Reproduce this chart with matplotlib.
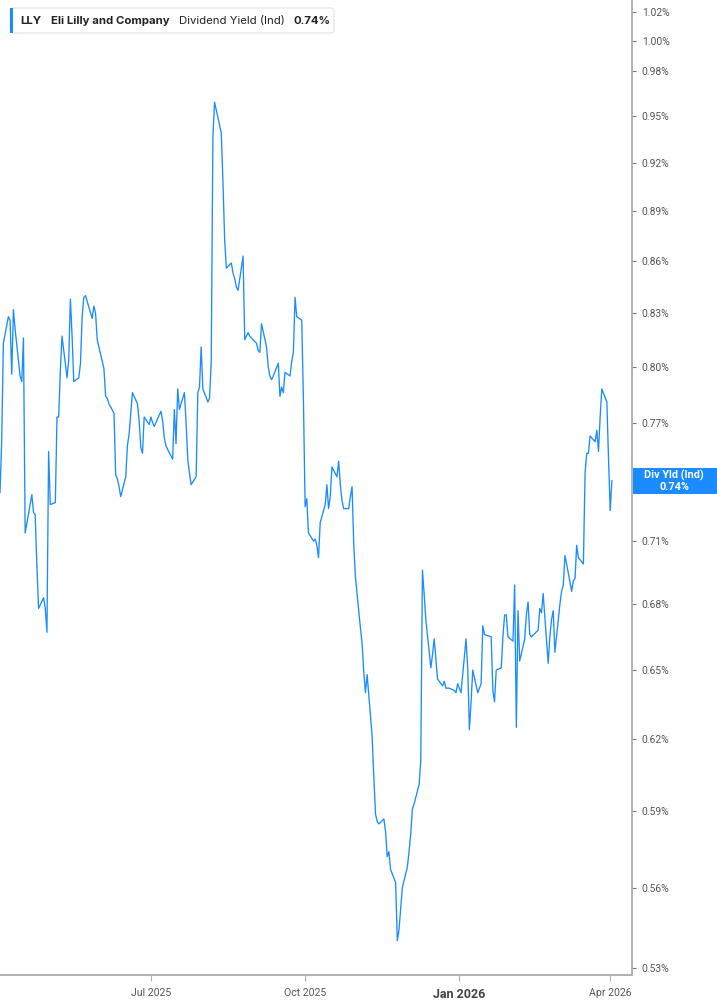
import matplotlib
matplotlib.use("Agg")
import matplotlib.pyplot as plt
import matplotlib.dates as mdates
import matplotlib.ticker as mticker
from matplotlib.patches import Rectangle, FancyBboxPatch
from matplotlib.text import Annotation
import pandas as pd

BLUE = "#1a8cff"
GREY_TXT = "#555555"
SPINE = "#b0b0b0"

# NYSE holidays in the window (no trading -> no point)
HOLIDAYS = ["2025-04-18", "2025-05-26", "2025-06-19", "2025-07-04", "2025-09-01",
            "2025-11-27", "2025-12-25", "2026-01-01", "2026-01-19", "2026-02-16"]
START, END = "2025-04-02", "2026-04-02"

# dividend yield (%), one value per trading day
yield_pct = [
    0.734, 0.760, 0.813, 0.828, 0.826, 0.796, 0.832, 0.821, 0.795, 0.792,
    0.816, 0.714, 0.733, 0.724, 0.723, 0.698, 0.678, 0.683, 0.678, 0.667,
    0.755, 0.728, 0.729, 0.773, 0.773, 0.798, 0.817, 0.794, 0.804, 0.838,
    0.817, 0.792, 0.794, 0.802, 0.828, 0.839, 0.840, 0.827, 0.834, 0.830,
    0.815, 0.803, 0.799, 0.784, 0.783, 0.780, 0.775, 0.743, 0.741, 0.737,
    0.732, 0.742, 0.758, 0.764, 0.786, 0.780, 0.771, 0.757, 0.754, 0.773,
    0.769, 0.773, 0.770, 0.768, 0.776, 0.771, 0.762, 0.758, 0.756, 0.751,
    0.777, 0.759, 0.788, 0.777, 0.786, 0.770, 0.751, 0.744, 0.738, 0.742,
    0.786, 0.789, 0.811, 0.788, 0.781, 0.783, 0.803, 0.937, 0.959, 0.944,
    0.939, 0.908, 0.873, 0.856, 0.859, 0.853, 0.850, 0.845, 0.843, 0.863,
    0.815, 0.817, 0.819, 0.817, 0.813, 0.809, 0.808, 0.824, 0.811, 0.800,
    0.795, 0.793, 0.795, 0.802, 0.784, 0.789, 0.786, 0.797, 0.795, 0.803,
    0.808, 0.839, 0.828, 0.826, 0.782, 0.727, 0.731, 0.714, 0.710, 0.711,
    0.708, 0.702, 0.719, 0.728, 0.738, 0.726, 0.732, 0.747, 0.742, 0.750,
    0.738, 0.730, 0.726, 0.726, 0.732, 0.737, 0.709, 0.693, 0.669, 0.662,
    0.649, 0.640, 0.648, 0.621, 0.604, 0.589, 0.586, 0.585, 0.587, 0.582,
    0.572, 0.574, 0.567, 0.562, 0.540, 0.544, 0.560, 0.568, 0.574, 0.581,
    0.591, 0.593, 0.601, 0.611, 0.696, 0.685, 0.673, 0.651, 0.657, 0.664,
    0.655, 0.646, 0.643, 0.645, 0.642, 0.642, 0.641, 0.640, 0.644, 0.640,
    0.664, 0.651, 0.624, 0.636, 0.650, 0.640, 0.642, 0.644, 0.670, 0.666,
    0.665, 0.641, 0.636, 0.650, 0.651, 0.665, 0.675, 0.675, 0.665, 0.663,
    0.689, 0.625, 0.677, 0.654, 0.664, 0.675, 0.681, 0.666, 0.665, 0.668,
    0.678, 0.676, 0.685, 0.653, 0.665, 0.673, 0.677, 0.658, 0.680, 0.686,
    0.689, 0.703, 0.699, 0.686, 0.691, 0.692, 0.708, 0.702, 0.699, 0.744,
    0.754, 0.754, 0.763, 0.760, 0.766, 0.755, 0.773, 0.788, 0.781, 0.751,
    0.725, 0.740,
]
ytick_vals = [0.53, 0.56, 0.59, 0.62, 0.65, 0.68, 0.71, 0.77, 0.80, 0.83,
              0.86, 0.89, 0.92, 0.95, 0.98, 1.00, 1.02]
xtick_dates = ["2025-07-01", "2025-10-01", "2026-01-01", "2026-04-01"]
xtick_labels = ["Jul 2025", "Oct 2025", "Jan 2026", "Apr 2026"]
ticker_name, company = "LLY", "Eli Lilly and Company"
metric, last_label = "Dividend Yield (Ind)", "0.74%"

days = pd.bdate_range(START, END)
days = days[~days.isin(pd.to_datetime(HOLIDAYS))]
s = pd.Series(yield_pct, index=days)

W, H = 717, 1005
fig = plt.figure(figsize=(W / 100, H / 100), dpi=100)
ax = fig.add_axes([0, 30 / H, 632 / W, 975 / H])
ax.plot(s.index, s.values, color=BLUE, lw=0.95)

ax.set_yscale("log")
ax.set_ylim(0.5275, 1.0285)
ax.set_xlim(pd.Timestamp("2025-04-02"), pd.Timestamp("2026-04-14"))

ax.yaxis.tick_right()
ax.yaxis.set_major_locator(mticker.FixedLocator(ytick_vals))
ax.yaxis.set_minor_locator(mticker.NullLocator())
ax.yaxis.set_major_formatter(mticker.FuncFormatter(lambda v, _: f"{v:.2f}%"))
ax.set_xticks(pd.to_datetime(xtick_dates))
ax.set_xticklabels(xtick_labels)
ax.xaxis.set_minor_locator(mticker.NullLocator())

for sp in ("top", "left"):
    ax.spines[sp].set_visible(False)
for sp in ("bottom", "right"):
    ax.spines[sp].set_color(SPINE)
    ax.spines[sp].set_linewidth(1.4)
ax.tick_params(axis="y", length=3, width=0.8, color="#777777", labelcolor=GREY_TXT,
               labelsize=7.4, pad=4)
ax.tick_params(axis="x", length=4, width=0.8, color=SPINE, labelcolor=GREY_TXT,
               labelsize=7.6, pad=5)
for lab in ax.get_xticklabels():
    lab.set_family("Roboto")
    if lab.get_text().startswith("Jan"):
        lab.set_fontweight("bold")
        lab.set_fontsize(9)
        lab.set_color("#444444")
for lab in ax.get_yticklabels():
    lab.set_family("Roboto")

# current-value tag on the price axis
xp, yp = ax.transData.transform((mdates.date2num(s.index[-1]), s.iloc[-1]))
yf = yp / fig.bbox.height
fig.patches.append(Rectangle((633 / W, yf - 13 / H), 84 / W, 26 / H, transform=fig.transFigure,
                             facecolor=BLUE, edgecolor="none"))
fig.text(674 / W, yf, f"Div Yld (Ind)\n{last_label}", ha="center", va="center", color="white",
         fontsize=7.8, fontweight="bold", family="Roboto", linespacing=1.05)

# legend chip, top-left
fig.patches.append(FancyBboxPatch((10 / W, 1 - 33 / H), 324 / W, 25 / H, transform=fig.transFigure,
                                  boxstyle="round,pad=0,rounding_size=0.004",
                                  facecolor="white", edgecolor="#e3e3e3", lw=0.8))
fig.patches.append(Rectangle((10 / W, 1 - 33 / H), 3 / W, 25 / H, transform=fig.transFigure,
                             facecolor=BLUE, edgecolor="none"))
kw = dict(fontsize=8.2, family="Inter", color="#222222")
t = fig.text(20 / W, 1 - 21 / H, ticker_name, fontweight="bold", va="center", **kw)
for txt, wt, gap in [(company, "bold", 7), (metric, "normal", 7), (last_label, "bold", 6)]:
    t = fig.add_artist(Annotation(txt, xy=(1, 0), xycoords=t, xytext=(gap, 0),
                                  textcoords="offset points", ha="left", va="bottom",
                                  fontweight=wt, **kw))

fig.savefig("out.png", dpi=100)
